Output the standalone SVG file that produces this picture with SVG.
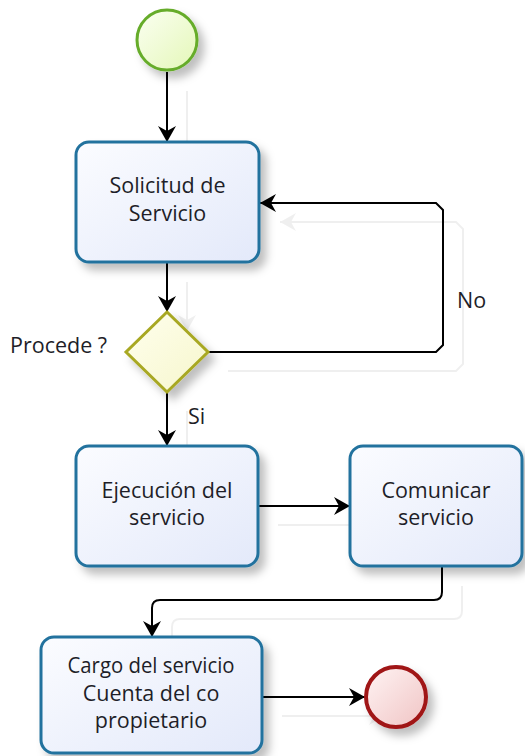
<svg xmlns="http://www.w3.org/2000/svg" xmlns:xlink="http://www.w3.org/1999/xlink" width="525" height="756" viewBox="0 0 525 756">
  <defs>
    <linearGradient id="gTask" x1="0" y1="0" x2="1" y2="1">
      <stop offset="0" stop-color="#fbfcff"/>
      <stop offset="1" stop-color="#e3e9fa"/>
    </linearGradient>
    <linearGradient id="gStart" x1="0" y1="0" x2="1" y2="1">
      <stop offset="0" stop-color="#fbfff2"/>
      <stop offset="1" stop-color="#e4f7b8"/>
    </linearGradient>
    <linearGradient id="gEnd" x1="0" y1="0" x2="1" y2="1">
      <stop offset="0" stop-color="#fff4f4"/>
      <stop offset="1" stop-color="#f0c4c4"/>
    </linearGradient>
    <linearGradient id="gGate" x1="0" y1="0" x2="1" y2="1">
      <stop offset="0" stop-color="#ffffee"/>
      <stop offset="1" stop-color="#f6f6cc"/>
    </linearGradient>
    <filter id="shadow" x="-20%" y="-20%" width="150%" height="150%">
      <feDropShadow dx="6" dy="7" stdDeviation="4.5" flood-color="#000" flood-opacity="0.25"/>
    </filter>
    <marker id="arrow" markerUnits="userSpaceOnUse" markerWidth="20" markerHeight="20" refX="16" refY="9" orient="auto">
      <path d="M0,0 L16,9 L0,18 L5,9 z" fill="#000"/>
    </marker>
  </defs>
  <style>
    .task { fill: url(#gTask); stroke: #22729e; stroke-width: 3; filter: url(#shadow); }
    .lbl { font-family: "Open Sans", "Noto Sans", sans-serif; font-size: 21.5px; fill: #1e1e28; text-anchor: middle; }
    .side { font-family: "Open Sans", "Noto Sans", sans-serif; font-size: 21.5px; fill: #1e1e28; }
    .flow { fill: none; stroke: #000; stroke-width: 2; }
  </style>

  <!-- sequence flows, with a faint offset copy underneath as their shadow -->
  <use xlink:href="#connectors" href="#connectors" transform="translate(20,19)" opacity="0.06"/>
  <g id="connectors">
    <path class="flow" d="M167,72 V142" marker-end="url(#arrow)"/>
    <path class="flow" d="M167,263 V312" marker-end="url(#arrow)"/>
    <path class="flow" d="M208,352 H436 L443,345 V210 L436,203 H260" marker-end="url(#arrow)"/>
    <path class="flow" d="M167,392 V446" marker-end="url(#arrow)"/>
    <path class="flow" d="M258,506 H350" marker-end="url(#arrow)"/>
    <path class="flow" d="M442,567 V592 Q442,600 434,600 H160 Q152,600 152,608 V637" marker-end="url(#arrow)"/>
    <path class="flow" d="M262,697 H365" marker-end="url(#arrow)"/>
  </g>

  <!-- start event -->
  <g id="start">
    <circle cx="167" cy="40" r="30" fill="url(#gStart)" stroke="#66ac2a" stroke-width="3" filter="url(#shadow)"/>
  </g>

  <!-- request task -->
  <g id="solicitud">
    <rect class="task" x="76" y="142" width="183" height="120" rx="13"/>
    <text class="lbl" x="167.5" y="193">Solicitud de</text>
    <text class="lbl" x="167.5" y="221">Servicio</text>
  </g>

  <!-- decision gateway -->
  <g id="procede">
    <path d="M167,312 L208,352 L167,392 L126,352 z" fill="url(#gGate)" stroke="#a8a824" stroke-width="3" stroke-linejoin="miter" filter="url(#shadow)"/>
    <text class="side" x="10" y="353">Procede ?</text>
  </g>

  <!-- flow labels -->
  <g id="labels">
    <text class="side" x="457" y="308">No</text>
    <text class="side" x="188" y="424">Si</text>
  </g>

  <!-- execution task -->
  <g id="ejecucion">
    <rect class="task" x="76" y="446" width="182" height="120" rx="13"/>
    <text class="lbl" x="167" y="498">Ejecución del</text>
    <text class="lbl" x="167" y="525">servicio</text>
  </g>

  <!-- notification task -->
  <g id="comunicar">
    <rect class="task" x="350" y="446" width="172" height="120" rx="13"/>
    <text class="lbl" x="436" y="498">Comunicar</text>
    <text class="lbl" x="436" y="525">servicio</text>
  </g>

  <!-- billing task -->
  <g id="cargo">
    <rect class="task" x="41" y="637" width="221" height="116" rx="13"/>
    <text class="lbl" x="151" y="673" textLength="167" lengthAdjust="spacingAndGlyphs">Cargo del servicio</text>
    <text class="lbl" x="151" y="701">Cuenta del co</text>
    <text class="lbl" x="151" y="728">propietario</text>
  </g>

  <!-- end event -->
  <g id="end">
    <circle cx="396" cy="697" r="30" fill="url(#gEnd)" stroke="#a01418" stroke-width="4" filter="url(#shadow)"/>
  </g>
</svg>
